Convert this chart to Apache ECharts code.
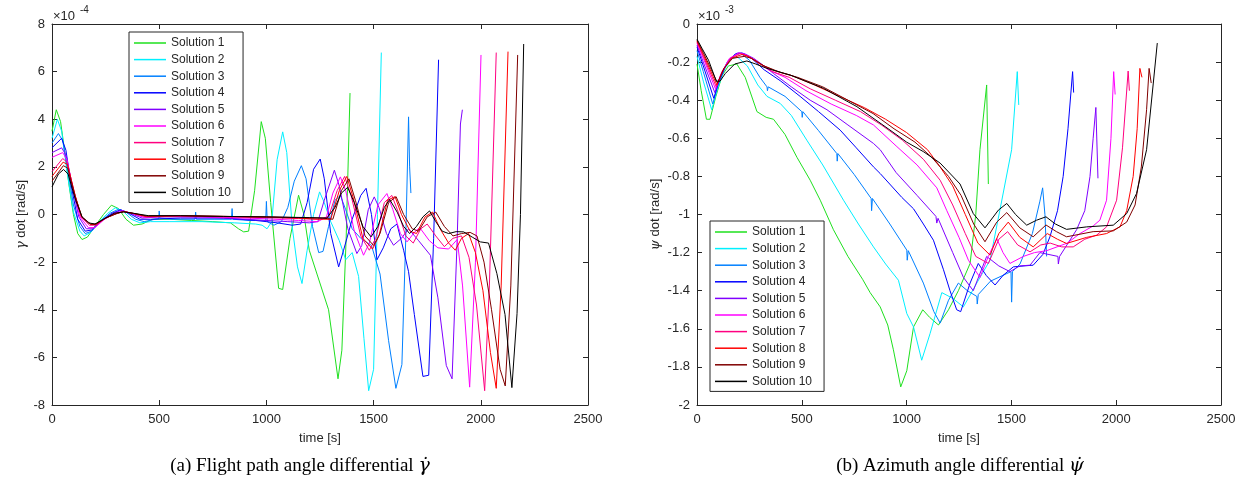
<!DOCTYPE html>
<html>
<head>
<meta charset="utf-8">
<script src="https://cdn.jsdelivr.net/npm/echarts@6/dist/echarts.min.js"></script>
<style>html,body{margin:0;padding:0;background:#fff}#c{width:1245px;height:489px}</style>
</head>
<body>
<div id="c"></div>
<script>
// ---- Data (time [s], value) ----
const names = ['Solution 1','Solution 2','Solution 3','Solution 4','Solution 5','Solution 6','Solution 7','Solution 8','Solution 9','Solution 10'];
const colors = ['#1ee01e','#00f0ff','#0080ff','#0000ff','#8000ff','#ff00ff','#ff0080','#ff0000','#800000','#000000'];
const xTicks = [0, 500, 1000, 1500, 2000, 2500];
const gammaTicks = [-8, -6, -4, -2, 0, 2, 4, 6, 8];      // x 1e-4
const psiTicks = [-2, -1.8, -1.6, -1.4, -1.2, -1, -0.8, -0.6, -0.4, -0.2, 0]; // x 1e-3

// gamma dot, units 1e-4 rad/s
const gamma1 = [[0,3.5],[20,4.4],[40,3.9],[60,2.6],[80,1.2],[100,0.0],[120,-0.8],[140,-1.05],[165,-0.95],[200,-0.5],[240,0.0],[277,0.39],[310,0.25],[345,-0.2],[380,-0.45],[420,-0.4],[470,-0.2],[550,-0.2],[650,-0.25],[750,-0.3],[832,-0.35],[870,-0.6],[894,-0.73],[917,-0.7],[945,1.0],[976,3.9],[995,3.2],[1020,0.5],[1057,-3.1],[1076,-3.15],[1110,-1.0],[1150,0.81],[1175,0.0],[1200,-1.5],[1236,-2.5],[1290,-4.0],[1334,-6.9],[1352,-5.7],[1372,-1.0],[1390,5.1]];
const gamma2 = [[0,3.2],[25,4.0],[45,3.5],[70,1.8],[100,0.1],[130,-0.7],[150,-0.9],[180,-0.75],[220,-0.3],[260,0.05],[295,0.28],[330,0.15],[370,-0.2],[410,-0.35],[460,-0.3],[550,-0.3],[700,-0.3],[850,-0.35],[950,-0.4],[980,-0.45],[1003,-0.6],[1025,-0.3],[1050,2.3],[1076,3.47],[1095,2.6],[1120,-0.5],[1145,-2.2],[1166,-2.9],[1190,-1.5],[1220,0.0],[1248,0.95],[1270,0.5],[1300,-0.3],[1340,-1.1],[1370,-1.9],[1400,-1.6],[1430,-2.6],[1455,-5.2],[1477,-7.4],[1500,-6.5],[1518,0.0],[1536,6.8]];
const gamma3 = [[0,3.0],[30,3.4],[50,3.1],[75,1.8],[100,0.4],[130,-0.5],[155,-0.8],[185,-0.7],[225,-0.3],[270,0.05],[310,0.22],[345,0.1],[390,-0.2],[430,-0.3],[480,-0.2],[498,-0.18],[500,0.15],[503,-0.15],[560,-0.2],[667,-0.2],[670,0.1],[673,-0.2],[760,-0.2],[837,-0.2],[840,0.25],[843,-0.2],[920,-0.25],[997,-0.25],[1000,0.55],[1004,-0.3],[1035,-0.45],[1070,-0.3],[1100,0.3],[1130,1.4],[1163,2.05],[1185,1.5],[1215,-0.5],[1244,-1.6],[1264,-1.55],[1290,-0.5],[1320,0.6],[1345,0.8],[1370,0.2],[1400,-0.6],[1440,-1.0],[1490,-1.3],[1530,-2.5],[1570,-5.3],[1604,-7.3],[1632,-6.3],[1650,-1.0],[1663,4.1],[1668,2.0],[1674,0.9]];
const gamma4 = [[0,2.8],[45,3.2],[65,2.7],[90,1.2],[120,-0.2],[155,-0.7],[185,-0.65],[230,-0.25],[280,0.05],[320,0.2],[360,0.05],[410,-0.2],[460,-0.2],[600,-0.15],[800,-0.15],[950,-0.25],[1050,-0.35],[1120,-0.45],[1160,-0.4],[1190,0.5],[1220,1.9],[1251,2.33],[1270,1.5],[1300,-0.8],[1337,-2.2],[1360,-1.5],[1400,-0.2],[1440,0.8],[1465,1.1],[1490,0.0],[1516,-1.9],[1545,-1.4],[1580,-0.6],[1609,-0.4],[1640,-1.5],[1663,-2.4],[1690,-4.2],[1730,-6.8],[1757,-6.75],[1780,-1.0],[1803,6.5]];
const gamma5 = [[0,2.6],[45,2.8],[65,2.5],[95,1.2],[125,-0.1],[160,-0.6],[190,-0.6],[235,-0.25],[285,0.05],[325,0.18],[365,0.05],[420,-0.15],[500,-0.1],[700,-0.1],[900,-0.2],[1100,-0.3],[1200,-0.35],[1240,-0.3],[1270,0.6],[1317,1.86],[1340,1.2],[1380,-0.6],[1422,-1.64],[1445,-1.3],[1475,0.2],[1503,0.74],[1525,0.3],[1560,-0.8],[1593,-1.29],[1630,-1.0],[1663,-0.6],[1710,-1.1],[1765,-1.71],[1800,-3.5],[1839,-6.34],[1866,-6.9],[1890,-1.0],[1905,3.8],[1914,4.4]];
const gamma6 = [[0,2.4],[50,2.6],[70,2.3],[100,1.0],[130,-0.1],[170,-0.55],[200,-0.55],[245,-0.2],[295,0.05],[330,0.15],[370,0.05],[430,-0.12],[550,-0.08],[800,-0.12],[1000,-0.18],[1150,-0.25],[1240,-0.3],[1280,-0.1],[1310,0.9],[1345,1.58],[1370,1.0],[1410,-0.7],[1453,-1.71],[1480,-1.2],[1520,0.4],[1562,0.88],[1590,0.2],[1625,-0.8],[1656,-1.15],[1690,-0.75],[1715,-0.55],[1760,-1.1],[1800,-1.4],[1850,-1.45],[1890,-1.05],[1915,-3.0],[1948,-7.25],[1975,-2.0],[2001,6.7]];
const gamma7 = [[0,1.8],[50,2.35],[70,2.2],[105,0.9],[135,-0.1],[175,-0.45],[205,-0.45],[250,-0.15],[300,0.05],[335,0.13],[375,0.05],[440,-0.1],[600,-0.06],[800,-0.1],[1000,-0.13],[1150,-0.17],[1240,-0.2],[1290,-0.1],[1330,1.0],[1365,1.6],[1395,0.8],[1440,-0.9],[1480,-1.5],[1510,-1.0],[1550,0.5],[1585,0.8],[1615,0.1],[1650,-0.9],[1685,-1.2],[1720,-0.6],[1750,-0.4],[1790,-0.9],[1830,-1.35],[1870,-1.0],[1910,-0.9],[1945,-1.8],[1980,-3.8],[2018,-7.4],[2040,-3.0],[2072,6.8]];
const gamma8 = [[0,1.6],[52,2.2],[72,2.1],[108,0.8],[138,-0.1],[180,-0.42],[205,-0.42],[250,-0.15],[305,0.05],[335,0.12],[375,0.05],[440,-0.08],[600,-0.05],[800,-0.08],[1000,-0.11],[1150,-0.15],[1250,-0.2],[1300,-0.2],[1340,1.0],[1375,1.6],[1405,0.7],[1450,-1.0],[1495,-1.45],[1525,-0.9],[1565,0.6],[1600,0.75],[1630,0.0],[1670,-0.7],[1700,-0.8],[1740,-0.1],[1775,0.1],[1810,-0.6],[1850,-1.2],[1881,-1.5],[1910,-1.0],[1943,-0.8],[1975,-1.6],[2010,-3.2],[2045,-5.8],[2072,-7.3],[2095,-3.0],[2127,6.84]];
const gamma9 = [[0,1.4],[53,2.05],[73,1.95],[110,0.7],[140,-0.1],[180,-0.4],[205,-0.4],[250,-0.15],[305,0.05],[335,0.12],[380,0.05],[440,-0.06],[600,-0.05],[800,-0.08],[1000,-0.1],[1150,-0.13],[1260,-0.15],[1310,-0.2],[1350,1.0],[1385,1.5],[1415,0.6],[1460,-0.9],[1500,-1.3],[1530,-0.8],[1570,0.5],[1605,0.75],[1640,0.0],[1680,-0.6],[1710,-0.7],[1750,-0.1],[1790,0.1],[1830,-0.5],[1870,-0.9],[1910,-0.8],[1950,-0.75],[1982,-0.9],[2015,-2.0],[2050,-4.0],[2090,-6.5],[2114,-7.2],[2140,-3.0],[2172,6.7]];
const gamma10 = [[0,1.16],[30,1.7],[54,1.89],[75,1.7],[110,0.6],[140,-0.1],[170,-0.35],[200,-0.4],[240,-0.2],[290,0.05],[334,0.11],[380,0.05],[450,-0.05],[600,-0.05],[800,-0.08],[1000,-0.1],[1200,-0.13],[1282,-0.15],[1320,0.3],[1350,0.9],[1379,1.14],[1410,0.5],[1450,-0.5],[1488,-0.94],[1520,-0.5],[1550,0.3],[1575,0.63],[1610,0.1],[1640,-0.5],[1668,-0.8],[1700,-0.5],[1730,-0.1],[1761,0.15],[1790,-0.3],[1820,-0.7],[1850,-0.8],[1885,-0.72],[1920,-0.73],[1960,-0.95],[1998,-1.15],[2036,-1.2],[2075,-2.48],[2113,-4.2],[2145,-7.27],[2169,-4.16],[2185,0.0],[2200,7.16]];

// psi dot, units 1e-3 rad/s
const psi1 = [[0,-0.21],[20,-0.35],[45,-0.5],[62,-0.5],[90,-0.38],[120,-0.27],[150,-0.22],[190,-0.21],[230,-0.28],[286,-0.46],[330,-0.49],[365,-0.50],[420,-0.58],[477,-0.70],[540,-0.82],[588,-0.925],[651,-1.08],[720,-1.22],[790,-1.34],[826,-1.41],[874,-1.485],[910,-1.58],[937,-1.71],[972,-1.905],[1001,-1.82],[1033,-1.59],[1077,-1.50],[1110,-1.54],[1152,-1.58],[1200,-1.5],[1247,-1.40],[1303,-1.257],[1330,-1.0],[1350,-0.66],[1382,-0.32],[1390,-0.84]];
const psi2 = [[0,-0.17],[30,-0.3],[70,-0.45],[95,-0.35],[130,-0.24],[165,-0.18],[195,-0.175],[240,-0.22],[290,-0.32],[334,-0.38],[397,-0.417],[450,-0.48],[524,-0.61],[600,-0.74],[699,-0.925],[770,-1.05],[842,-1.17],[900,-1.26],[961,-1.345],[1001,-1.52],[1033,-1.59],[1072,-1.765],[1112,-1.625],[1168,-1.41],[1220,-1.44],[1271,-1.485],[1340,-1.35],[1398,-1.24],[1450,-0.95],[1501,-0.66],[1528,-0.25],[1535,-0.425]];
const psi3 = [[0,-0.14],[30,-0.25],[75,-0.42],[100,-0.32],[140,-0.21],[180,-0.16],[210,-0.155],[250,-0.19],[300,-0.28],[334,-0.33],[336,-0.35],[340,-0.33],[420,-0.38],[500,-0.46],[502,-0.49],[505,-0.46],[580,-0.56],[667,-0.68],[669,-0.72],[672,-0.68],[750,-0.79],[831,-0.916],[833,-0.98],[837,-0.916],[920,-1.05],[1001,-1.187],[1003,-1.24],[1008,-1.19],[1080,-1.36],[1130,-1.51],[1160,-1.57],[1200,-1.45],[1247,-1.36],[1290,-1.40],[1335,-1.43],[1337,-1.47],[1342,-1.42],[1400,-1.35],[1478,-1.31],[1498,-1.30],[1501,-1.46],[1505,-1.30],[1541,-1.26],[1600,-1.1],[1636,-0.93],[1649,-0.86],[1660,-1.0],[1668,-1.22]];
const psi4 = [[0,-0.12],[30,-0.22],[80,-0.39],[105,-0.30],[145,-0.2],[185,-0.155],[215,-0.152],[260,-0.18],[320,-0.24],[400,-0.30],[492,-0.38],[580,-0.46],[683,-0.557],[760,-0.65],[842,-0.75],[874,-0.785],[977,-0.91],[1033,-0.97],[1080,-1.05],[1128,-1.135],[1176,-1.29],[1207,-1.40],[1239,-1.50],[1258,-1.51],[1303,-1.36],[1342,-1.257],[1380,-1.32],[1422,-1.37],[1460,-1.32],[1509,-1.275],[1560,-1.27],[1604,-1.266],[1650,-1.21],[1684,-1.117],[1720,-0.98],[1747,-0.80],[1770,-0.55],[1792,-0.25],[1797,-0.36]];
const psi5 = [[0,-0.11],[30,-0.2],[85,-0.36],[110,-0.28],[150,-0.19],[195,-0.152],[225,-0.155],[270,-0.18],[320,-0.22],[365,-0.26],[450,-0.33],[540,-0.4],[620,-0.45],[720,-0.53],[842,-0.627],[874,-0.66],[950,-0.78],[1050,-0.9],[1140,-1.01],[1144,-1.045],[1150,-1.02],[1220,-1.2],[1271,-1.33],[1318,-1.40],[1382,-1.22],[1440,-1.27],[1493,-1.30],[1540,-1.27],[1589,-1.266],[1636,-1.2],[1722,-1.22],[1724,-1.26],[1730,-1.22],[1811,-1.08],[1850,-0.98],[1875,-0.8],[1890,-0.6],[1903,-0.438],[1913,-0.81]];
const psi6 = [[0,-0.1],[30,-0.18],[88,-0.34],[115,-0.26],[155,-0.18],[200,-0.152],[230,-0.16],[280,-0.19],[340,-0.24],[420,-0.28],[520,-0.35],[640,-0.42],[760,-0.48],[842,-0.53],[950,-0.64],[1050,-0.74],[1144,-0.86],[1192,-0.98],[1250,-1.12],[1295,-1.24],[1350,-1.33],[1390,-1.22],[1430,-1.126],[1460,-1.2],[1493,-1.257],[1557,-1.22],[1610,-1.2],[1668,-1.19],[1767,-1.15],[1827,-1.1],[1890,-1.06],[1922,-1.03],[1954,-0.925],[1975,-0.6],[1988,-0.25],[1995,-0.37]];
const psi7 = [[0,-0.095],[30,-0.17],[92,-0.33],[120,-0.25],[160,-0.18],[205,-0.155],[235,-0.165],[290,-0.2],[360,-0.25],[440,-0.28],[540,-0.34],[660,-0.40],[780,-0.46],[880,-0.53],[980,-0.61],[1080,-0.71],[1160,-0.82],[1220,-0.95],[1280,-1.1],[1330,-1.22],[1390,-1.257],[1440,-1.13],[1482,-1.09],[1530,-1.16],[1589,-1.196],[1640,-1.16],[1685,-1.15],[1740,-1.17],[1795,-1.17],[1850,-1.13],[1907,-1.108],[1954,-1.065],[2002,-0.925],[2030,-0.65],[2057,-0.247],[2063,-0.35]];
const psi8 = [[0,-0.09],[30,-0.16],[95,-0.32],[125,-0.24],[165,-0.18],[215,-0.16],[245,-0.17],[300,-0.21],[370,-0.245],[450,-0.27],[560,-0.32],[680,-0.38],[800,-0.44],[900,-0.5],[1000,-0.57],[1100,-0.66],[1160,-0.75],[1220,-0.85],[1280,-1.0],[1340,-1.15],[1398,-1.213],[1440,-1.1],[1485,-1.04],[1540,-1.12],[1604,-1.17],[1671,-1.10],[1720,-1.13],[1763,-1.152],[1859,-1.12],[1954,-1.10],[2018,-1.065],[2050,-0.98],[2081,-0.8],[2100,-0.55],[2113,-0.233],[2123,-0.28]];
const psi9 = [[0,-0.085],[30,-0.15],[98,-0.31],[130,-0.23],[170,-0.18],[225,-0.17],[260,-0.18],[320,-0.22],[400,-0.255],[480,-0.28],[600,-0.33],[720,-0.40],[840,-0.47],[940,-0.55],[1040,-0.62],[1120,-0.7],[1200,-0.8],[1260,-0.9],[1320,-1.05],[1374,-1.143],[1430,-1.04],[1478,-0.99],[1540,-1.07],[1604,-1.117],[1665,-1.055],[1715,-1.09],[1763,-1.117],[1890,-1.09],[1986,-1.086],[2050,-1.04],[2090,-0.95],[2120,-0.75],[2145,-0.45],[2157,-0.233],[2167,-0.31]];
const psi10 = [[0,-0.08],[25,-0.13],[55,-0.19],[92,-0.30],[110,-0.30],[135,-0.26],[180,-0.21],[238,-0.194],[280,-0.21],[334,-0.233],[445,-0.268],[604,-0.338],[763,-0.434],[921,-0.557],[1000,-0.62],[1080,-0.67],[1160,-0.73],[1255,-0.84],[1318,-0.995],[1374,-1.07],[1438,-0.977],[1478,-0.942],[1520,-1.0],[1573,-1.056],[1620,-1.03],[1665,-1.012],[1710,-1.05],[1763,-1.078],[1859,-1.065],[1986,-1.056],[2050,-0.995],[2097,-0.89],[2145,-0.66],[2177,-0.31],[2196,-0.10]];

const gammaSets = [gamma1,gamma2,gamma3,gamma4,gamma5,gamma6,gamma7,gamma8,gamma9,gamma10];
const psiSets = [psi1,psi2,psi3,psi4,psi5,psi6,psi7,psi8,psi9,psi10];

// ---- Chart ----
const chart = echarts.init(document.getElementById('c'), null, {renderer: 'canvas'});
const FONT = 'Liberation Sans, Arial, Helvetica, sans-serif';
const AX = '#262626';

function xAx(grid, pos) {
  return {
    type: 'value', gridIndex: grid, position: pos,
    min: xTicks[0], max: xTicks[xTicks.length - 1], interval: xTicks[1] - xTicks[0],
    axisLine: {show: true, onZero: false, lineStyle: {color: AX, width: 1}},
    axisTick: {show: true, inside: true, length: 5, lineStyle: {color: AX}},
    axisLabel: {show: pos === 'bottom', color: AX, fontFamily: FONT, fontSize: 13, margin: 8, formatter: v => String(v)},
    splitLine: {show: false},
    name: pos === 'bottom' ? 'time [s]' : '',
    nameLocation: 'middle', nameGap: 27,
    nameTextStyle: {color: AX, fontFamily: FONT, fontSize: 13}
  };
}
function yAx(grid, pos, ticks, nm, gap, fmt) {
  return {
    type: 'value', gridIndex: grid, position: pos,
    min: ticks[0], max: ticks[ticks.length - 1], interval: +(ticks[1] - ticks[0]).toFixed(3),
    axisLine: {show: true, onZero: false, lineStyle: {color: AX, width: 1}},
    axisTick: {show: true, inside: true, length: 5, lineStyle: {color: AX}},
    axisLabel: {show: pos === 'left', color: AX, fontFamily: FONT, fontSize: 13, margin: 7, formatter: fmt},
    splitLine: {show: false},
    name: pos === 'left' ? nm : '',
    nameLocation: 'middle', nameGap: gap, nameRotate: 90,
    nameTextStyle: {color: AX, fontFamily: FONT, fontSize: 13,
      rich: {g: {fontStyle: 'italic', fontFamily: 'DejaVu Serif, serif', fontSize: 13, color: AX}}}
  };
}

const series = [];
gammaSets.forEach((d, i) => series.push({
  type: 'line', name: names[i], xAxisIndex: 0, yAxisIndex: 0, data: d,
  showSymbol: false, symbol: 'none', lineStyle: {width: 1, color: colors[i]}, itemStyle: {color: colors[i]},
  animation: false, z: 2
}));
psiSets.forEach((d, i) => series.push({
  type: 'line', name: names[i], xAxisIndex: 2, yAxisIndex: 2, data: d,
  showSymbol: false, symbol: 'none', lineStyle: {width: 1, color: colors[i]}, itemStyle: {color: colors[i]},
  animation: false, z: 2
}));

function legend(left, top) {
  return {
    orient: 'vertical', left: left, top: top, data: names,
    icon: 'rect', itemWidth: 32, itemHeight: 1.5, itemGap: 2.6,
    backgroundColor: '#fff', borderColor: AX, borderWidth: 1,
    padding: [4, 12, 3, 5],
    textStyle: {color: AX, fontFamily: FONT, fontSize: 12, lineHeight: 14, padding: [0, 0, 0, 0]},
    selectedMode: false, z: 10
  };
}

const fmtG = v => String(v);
const fmtP = v => String(+v.toFixed(1));
const capFont = '19px Liberation Serif, Times New Roman, serif';

chart.setOption({
  animation: false,
  backgroundColor: '#fff',
  grid: [
    {left: 52, top: 24, width: 536, height: 381},
    {left: 697, top: 24, width: 524, height: 381}
  ],
  xAxis: [xAx(0, 'bottom'), xAx(0, 'top'), xAx(1, 'bottom'), xAx(1, 'top')],
  yAxis: [
    yAx(0, 'left', gammaTicks, '{g|γ} dot [rad/s]', 24, fmtG),
    yAx(0, 'right', gammaTicks, '', 0, fmtG),
    yAx(1, 'left', psiTicks, '{g|ψ} dot [rad/s]', 35, fmtP),
    yAx(1, 'right', psiTicks, '', 0, fmtP)
  ],
  legend: [legend(129, 32), legend(710, 221)],
  series: series,
  graphic: [
    {type: 'text', x: 53, y: 10, style: {text: '×10', font: '13px ' + FONT, fill: AX}},
    {type: 'text', x: 80, y: 5, style: {text: '-4', font: '10px ' + FONT, fill: AX}},
    {type: 'text', x: 698, y: 10, style: {text: '×10', font: '13px ' + FONT, fill: AX}},
    {type: 'text', x: 725, y: 5, style: {text: '-3', font: '10px ' + FONT, fill: AX}},
    {type: 'text', x: 300, y: 466, style: {
      text: '(a) Flight path angle differential {i|γ̇}', align: 'center', verticalAlign: 'middle',
      font: capFont, fill: '#000',
      rich: {i: {fontStyle: 'italic', fontSize: 19, fontFamily: 'DejaVu Serif, serif'}}}},
    {type: 'text', x: 960, y: 466, style: {
      text: '(b) Azimuth angle differential {i|ψ̇}', align: 'center', verticalAlign: 'middle',
      font: capFont, fill: '#000',
      rich: {i: {fontStyle: 'italic', fontSize: 19, fontFamily: 'DejaVu Serif, serif'}}}}
  ]
});
</script>
</body>
</html>
